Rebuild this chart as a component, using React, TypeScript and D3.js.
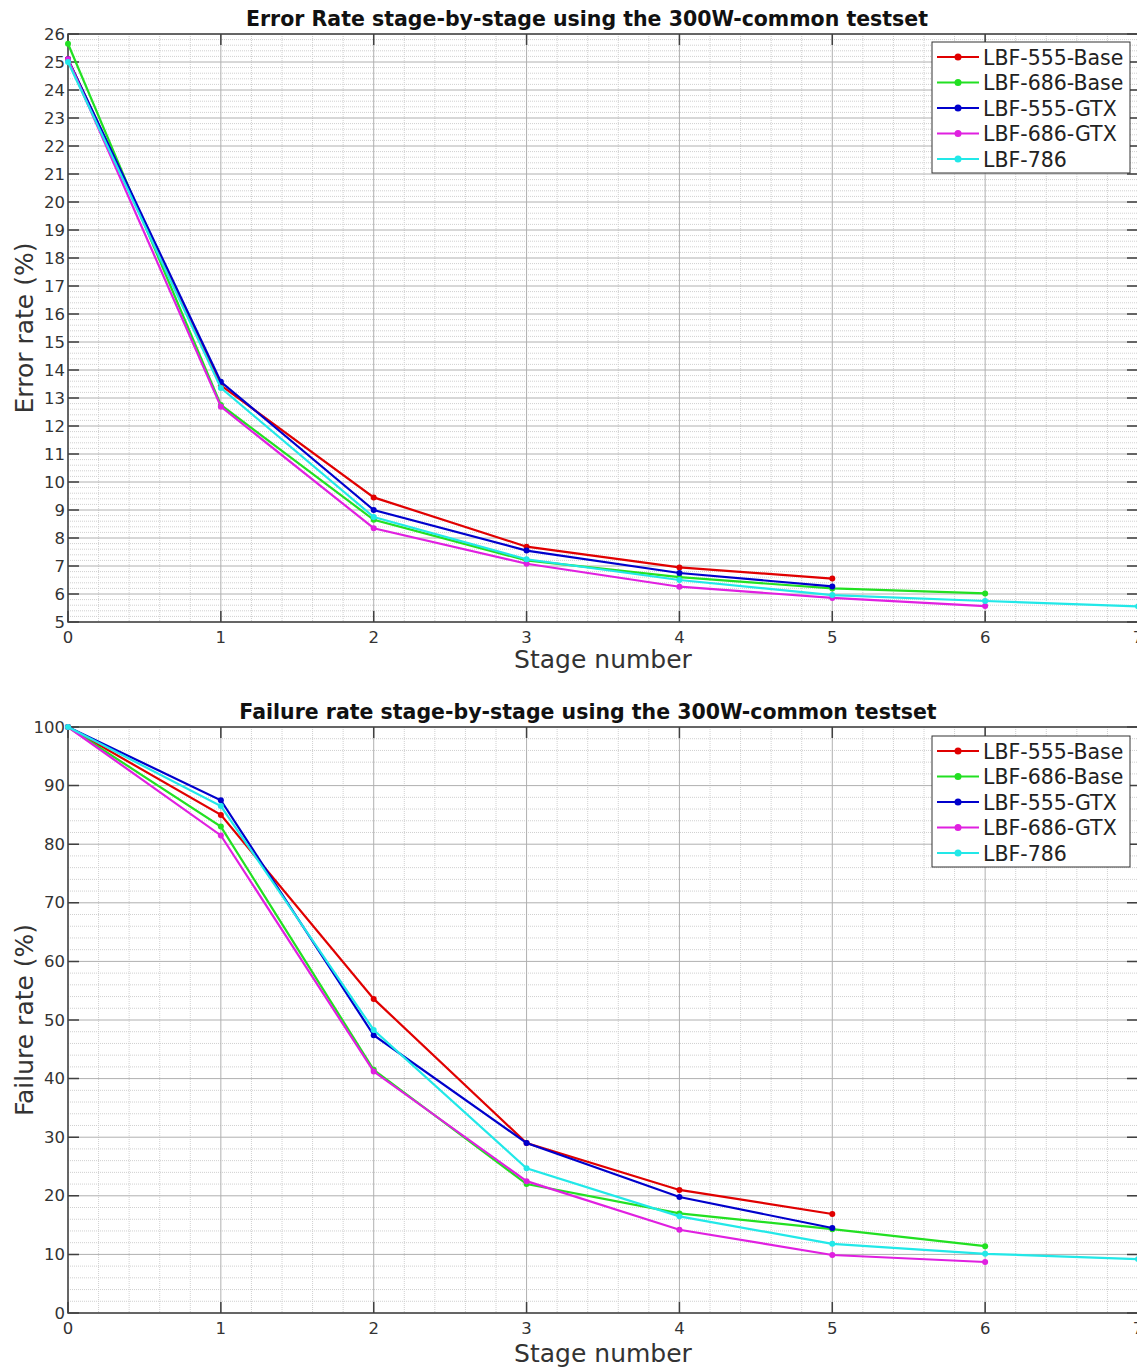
import React, { useRef, useEffect } from 'react'
import * as d3 from 'd3'

const stages = [0, 1, 2, 3, 4, 5, 6, 7]
const seriesNames = ['LBF-555-Base', 'LBF-686-Base', 'LBF-555-GTX', 'LBF-686-GTX', 'LBF-786']
const seriesColors = ['#e00000', '#22e022', '#0000cc', '#e020e0', '#22e8e8']

// error rate (%) per stage, one array per series
const err555Base = [25.1, 13.45, 9.45, 7.69, 6.95, 6.55]
const err686Base = [25.65, 12.75, 8.65, 7.2, 6.6, 6.2, 6.02]
const err555Gtx = [25.1, 13.58, 9.0, 7.55, 6.75, 6.27]
const err686Gtx = [25.1, 12.69, 8.35, 7.08, 6.26, 5.86, 5.57]
const err786 = [25.0, 13.36, 8.75, 7.24, 6.5, 5.96, 5.75, 5.56]

// failure rate (%) per stage
const fail555Base = [100, 85, 53.6, 29, 21, 16.9]
const fail686Base = [100, 83, 41.5, 22, 17, 14.3, 11.4]
const fail555Gtx = [100, 87.5, 47.4, 29, 19.8, 14.5]
const fail686Gtx = [100, 81.5, 41.2, 22.5, 14.2, 9.9, 8.7]
const fail786 = [100, 86.5, 48.3, 24.7, 16.5, 11.8, 10.1, 9.2]

const errTicks = d3.range(5, 27)
const failTicks = d3.range(0, 101, 10)

const W = 1137
const H = 1367
const FONT = '"DejaVu Sans", sans-serif'

type ChartCfg = {
  title: string
  titleX: number
  ylabel: string
  series: number[][]
  yDomain: [number, number]
  yTicks: number[]
  yMinor: number
  top: number
  bottom: number
  xlabelY: number
  legendTop: number
}

const drawChart = (svg: any, cfg: ChartCfg) => {
  const left = 68
  const right = 1138
  const x = d3.scaleLinear().domain([0, 7]).range([left, right])
  const y = d3.scaleLinear().domain(cfg.yDomain).range([cfg.bottom, cfg.top])
  const g = svg.append('g')

  // minor grid
  const xMinor = d3.range(0, 7.001, 0.2).filter(v => Math.abs(v - Math.round(v)) > 0.01)
  g.selectAll('.xm').data(xMinor).join('line')
    .attr('x1', (d: number) => x(d)).attr('x2', (d: number) => x(d))
    .attr('y1', cfg.top).attr('y2', cfg.bottom)
    .attr('stroke', '#d0d0d0').attr('stroke-width', 1).attr('stroke-dasharray', '1,1')
  const yMinor = d3.range(cfg.yDomain[0], cfg.yDomain[1] + 0.001, cfg.yMinor)
    .filter(v => !cfg.yTicks.some(t => Math.abs(t - v) < 0.01))
  g.selectAll('.ym').data(yMinor).join('line')
    .attr('x1', left).attr('x2', right)
    .attr('y1', (d: number) => y(d)).attr('y2', (d: number) => y(d))
    .attr('stroke', '#d0d0d0').attr('stroke-width', 1).attr('stroke-dasharray', '1,1')

  // major grid
  g.selectAll('.xg').data(stages).join('line')
    .attr('x1', (d: number) => x(d)).attr('x2', (d: number) => x(d))
    .attr('y1', cfg.top).attr('y2', cfg.bottom)
    .attr('stroke', '#b0b0b0').attr('stroke-width', 1)
  g.selectAll('.yg').data(cfg.yTicks).join('line')
    .attr('x1', left).attr('x2', right)
    .attr('y1', (d: number) => y(d)).attr('y2', (d: number) => y(d))
    .attr('stroke', '#b0b0b0').attr('stroke-width', 1)

  // axes box + inward ticks
  g.append('rect').attr('x', left).attr('y', cfg.top)
    .attr('width', right - left).attr('height', cfg.bottom - cfg.top)
    .attr('fill', 'none').attr('stroke', '#404040').attr('stroke-width', 1.5)
  const tk = 11
  g.selectAll('.xt').data(stages).join('path')
    .attr('d', (d: number) => `M${x(d)},${cfg.bottom}v${-tk}M${x(d)},${cfg.top}v${tk}`)
    .attr('stroke', '#404040').attr('stroke-width', 1.5)
  g.selectAll('.yt').data(cfg.yTicks).join('path')
    .attr('d', (d: number) => `M${left},${y(d)}h${tk}M${right},${y(d)}h${-tk}`)
    .attr('stroke', '#404040').attr('stroke-width', 1.5)

  // tick labels
  g.selectAll('.xl').data(stages).join('text')
    .attr('x', (d: number) => x(d)).attr('y', cfg.bottom + 21)
    .attr('text-anchor', 'middle').attr('font-family', FONT).attr('font-size', 16.5)
    .attr('fill', '#333').text((d: number) => d)
  g.selectAll('.yl').data(cfg.yTicks).join('text')
    .attr('x', left - 3).attr('y', (d: number) => y(d) + 5.5)
    .attr('text-anchor', 'end').attr('font-family', FONT).attr('font-size', 16.5)
    .attr('fill', '#333').text((d: number) => d)

  // labels
  g.append('text').attr('x', cfg.titleX).attr('y', cfg.top - 8)
    .attr('text-anchor', 'middle').attr('font-family', FONT).attr('font-size', 20.5)
    .attr('font-weight', 'bold').attr('fill', '#111').text(cfg.title)
  g.append('text').attr('x', (left + right) / 2).attr('y', cfg.xlabelY)
    .attr('text-anchor', 'middle').attr('font-family', FONT).attr('font-size', 25)
    .attr('fill', '#333').text('Stage number')
  g.append('text')
    .attr('transform', `translate(33,${(cfg.top + cfg.bottom) / 2}) rotate(-90)`)
    .attr('text-anchor', 'middle').attr('font-family', FONT).attr('font-size', 25)
    .attr('fill', '#333').text(cfg.ylabel)

  // series
  const line = d3.line<number>().x((_, i) => x(stages[i])).y(d => y(d))
  const clipId = 'clip' + cfg.top
  svg.append('clipPath').attr('id', clipId).append('rect')
    .attr('x', left - 5).attr('y', cfg.top - 5)
    .attr('width', right - left + 10).attr('height', cfg.bottom - cfg.top + 10)
  const sg = g.append('g').attr('clip-path', `url(#${clipId})`)
  cfg.series.forEach((vals, si) => {
    sg.append('path').attr('d', line(vals)).attr('fill', 'none')
      .attr('stroke', seriesColors[si]).attr('stroke-width', 2.2)
    sg.selectAll(null).data(vals).join('circle')
      .attr('cx', (_: number, i: number) => x(stages[i])).attr('cy', (d: number) => y(d))
      .attr('r', 3).attr('fill', seriesColors[si])
  })

  // legend
  const lx = 932
  const lt = cfg.legendTop
  const rowH = 25.5
  g.append('rect').attr('x', lx).attr('y', lt).attr('width', 198).attr('height', 131)
    .attr('fill', 'white').attr('stroke', '#333').attr('stroke-width', 1)
  seriesNames.forEach((name, si) => {
    const ry = lt + 15 + si * rowH
    g.append('line').attr('x1', lx + 5).attr('x2', lx + 47).attr('y1', ry).attr('y2', ry)
      .attr('stroke', seriesColors[si]).attr('stroke-width', 2.2)
    g.append('circle').attr('cx', lx + 26).attr('cy', ry).attr('r', 3.5).attr('fill', seriesColors[si])
    g.append('text').attr('x', lx + 51).attr('y', ry + 7.5)
      .attr('font-family', FONT).attr('font-size', 20.5).attr('fill', '#222').text(name)
  })
}

const App = () => {
  const ref = useRef<SVGSVGElement>(null)

  useEffect(() => {
    if (!ref.current) return
    const svg = d3.select(ref.current)
    svg.selectAll('*').remove()
    svg.append('rect').attr('width', W).attr('height', H).attr('fill', 'white')

    drawChart(svg, {
      title: 'Error Rate stage-by-stage using the 300W-common testset',
      titleX: 587,
      ylabel: 'Error rate (%)',
      series: [err555Base, err686Base, err555Gtx, err686Gtx, err786],
      yDomain: [5, 26],
      yTicks: errTicks,
      yMinor: 0.2,
      top: 34,
      bottom: 622,
      xlabelY: 668,
      legendTop: 42,
    })
    drawChart(svg, {
      title: 'Failure rate stage-by-stage using the 300W-common testset',
      titleX: 588,
      ylabel: 'Failure rate (%)',
      series: [fail555Base, fail686Base, fail555Gtx, fail686Gtx, fail786],
      yDomain: [0, 100],
      yTicks: failTicks,
      yMinor: 2,
      top: 727,
      bottom: 1313,
      xlabelY: 1362,
      legendTop: 736,
    })
  }, [])

  return (
    <div>
      <svg ref={ref} width={W} height={H}
        style={{ position: 'absolute', left: 0, top: 0, display: 'block' }} />
    </div>
  )
}

export default App
